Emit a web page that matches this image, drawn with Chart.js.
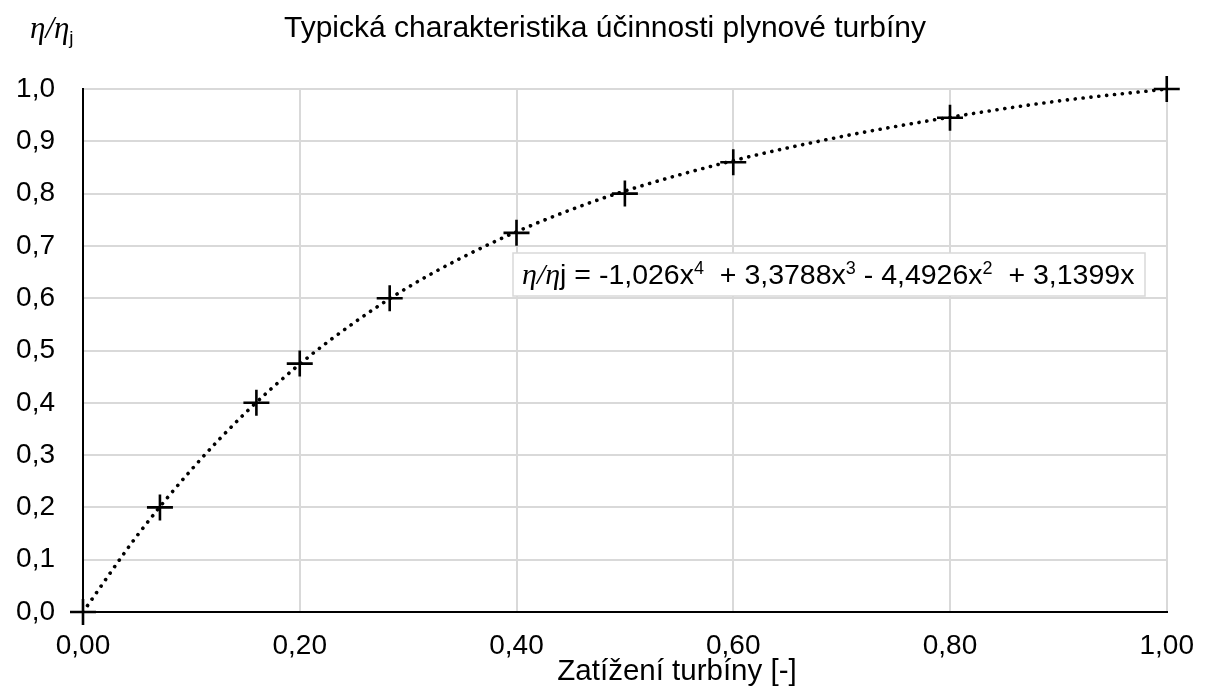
<!DOCTYPE html>
<html lang="cs">
<head>
<meta charset="utf-8">
<title>Typická charakteristika účinnosti plynové turbíny</title>
<script src="https://cdn.jsdelivr.net/npm/chart.js@4.4.1/dist/chart.umd.min.js"></script>
<style>
  html, body { margin: 0; padding: 0; background: #fff; }
  #wrap { width: 1211px; height: 691px; position: relative; }
</style>
</head>
<body>
<div id="wrap"><canvas id="chart"></canvas></div>
<script>
// measured points (load vs. relative efficiency)
const loadValues = [0, 0.071, 0.16, 0.2, 0.283, 0.4, 0.5, 0.6, 0.8, 1.0];
const effValues  = [0, 0.2, 0.4, 0.475, 0.6, 0.725, 0.8, 0.86, 0.945, 1.0];

// dotted trendline
const trendX = [0, 0.05, 0.1, 0.15, 0.2, 0.25, 0.3, 0.35, 0.4, 0.45, 0.5, 0.6, 0.7, 0.8, 0.9, 1.0];
const trendY = [0, 0.146, 0.272, 0.381, 0.474, 0.553, 0.621, 0.678, 0.727, 0.769, 0.805, 0.863, 0.909, 0.946, 0.977, 1.0];

const xTickLabels = ['0,00', '0,20', '0,40', '0,60', '0,80', '1,00'];
const yTickLabels = ['0,0', '0,1', '0,2', '0,3', '0,4', '0,5', '0,6', '0,7', '0,8', '0,9', '1,0'];

const chartTitle = 'Typická charakteristika účinnosti plynové turbíny';
const xTitle = 'Zatížení turbíny [-]';

const SANS = "'Liberation Sans', Arial, sans-serif";
const SERIF = "'Liberation Serif', 'Times New Roman', serif";

// draw a row of text pieces with different fonts / offsets
function drawRuns(ctx, x, y, runs) {
    runs.forEach(r => {
        ctx.font = r.f;
        ctx.fillText(r.t, x, y + (r.dy || 0));
        x += ctx.measureText(r.t).width;
    });
    return x;
}

const textPlugin = {
    id: 'texts',
    afterDatasetsDraw(chart) {
        const ctx = chart.ctx;
        ctx.save();
        // equation box
        ctx.fillStyle = '#fff';
        ctx.fillRect(513, 253, 632, 43);
        ctx.strokeStyle = '#d9d9d9';
        ctx.lineWidth = 1.5;
        ctx.strokeRect(513, 253, 632, 43);
        ctx.fillStyle = '#000';
        ctx.textAlign = 'left';
        ctx.textBaseline = 'alphabetic';
        const sup = `18px ${SANS}`;
        const main = `28.5px ${SANS}`;
        drawRuns(ctx, 522, 284, [
            { t: 'η/η', f: `italic 30px ${SERIF}` },
            { t: 'j = -1,026x', f: main },
            { t: '4', f: sup, dy: -10 },
            { t: '  + 3,3788x', f: main },
            { t: '3', f: sup, dy: -10 },
            { t: ' - 4,4926x', f: main },
            { t: '2', f: sup, dy: -10 },
            { t: '  + 3,1399x', f: main }
        ]);
        ctx.restore();
    },
    afterDraw(chart) {
        const ctx = chart.ctx;
        ctx.save();
        ctx.fillStyle = '#000';
        ctx.textBaseline = 'alphabetic';
        ctx.textAlign = 'center';
        ctx.font = `30px ${SANS}`;
        ctx.fillText(chartTitle, 605, 37);
        ctx.font = `29.5px ${SANS}`;
        ctx.fillText(xTitle, 677, 680);
        ctx.textAlign = 'left';
        drawRuns(ctx, 30, 38, [
            { t: 'η/η', f: `italic 31px ${SERIF}` },
            { t: 'j', f: `19px ${SANS}`, dy: 6 }
        ]);
        ctx.restore();
    }
};

new Chart(document.getElementById('chart'), {
    type: 'scatter',
    data: {
        datasets: [
            {
                label: 'měření',
                data: loadValues.map((x, i) => ({ x, y: effValues[i] })),
                pointStyle: 'cross',
                pointRadius: 13,
                pointHoverRadius: 13,
                pointBorderWidth: 2.6,
                borderColor: '#000',
                backgroundColor: '#000',
                showLine: false,
                clip: false,
                order: 1
            },
            {
                label: 'trend',
                data: trendX.map((x, i) => ({ x, y: trendY[i] })),
                showLine: true,
                pointRadius: 0,
                borderColor: '#000',
                borderWidth: 3.6,
                borderDash: [0.1, 7.8],
                borderCapStyle: 'round',
                cubicInterpolationMode: 'monotone',
                order: 2
            }
        ]
    },
    options: {
        responsive: true,
        maintainAspectRatio: false,
        animation: false,
        devicePixelRatio: 1,
        layout: { padding: { top: 89, right: 34, left: 0, bottom: 0 } },
        plugins: {
            legend: { display: false },
            tooltip: { enabled: false }
        },
        scales: {
            x: {
                type: 'linear',
                min: 0,
                max: 1,
                afterFit: s => { s.height = 79; },
                ticks: {
                    stepSize: 0.2,
                    padding: 17,
                    color: '#000',
                    font: { family: SANS, size: 28 },
                    callback: (v) => xTickLabels[Math.round(v / 0.2)]
                },
                grid: { color: '#d9d9d9', lineWidth: 2, drawTicks: false },
                border: { color: '#000', width: 2 }
            },
            y: {
                type: 'linear',
                min: 0,
                max: 1,
                afterFit: s => { s.width = 83; },
                ticks: {
                    stepSize: 0.1,
                    padding: 28,
                    color: '#000',
                    font: { family: SANS, size: 28 },
                    callback: (v) => yTickLabels[Math.round(v / 0.1)]
                },
                grid: { color: '#d9d9d9', lineWidth: 2, drawTicks: false },
                border: { color: '#000', width: 2 }
            }
        }
    },
    plugins: [textPlugin]
});
</script>
</body>
</html>
